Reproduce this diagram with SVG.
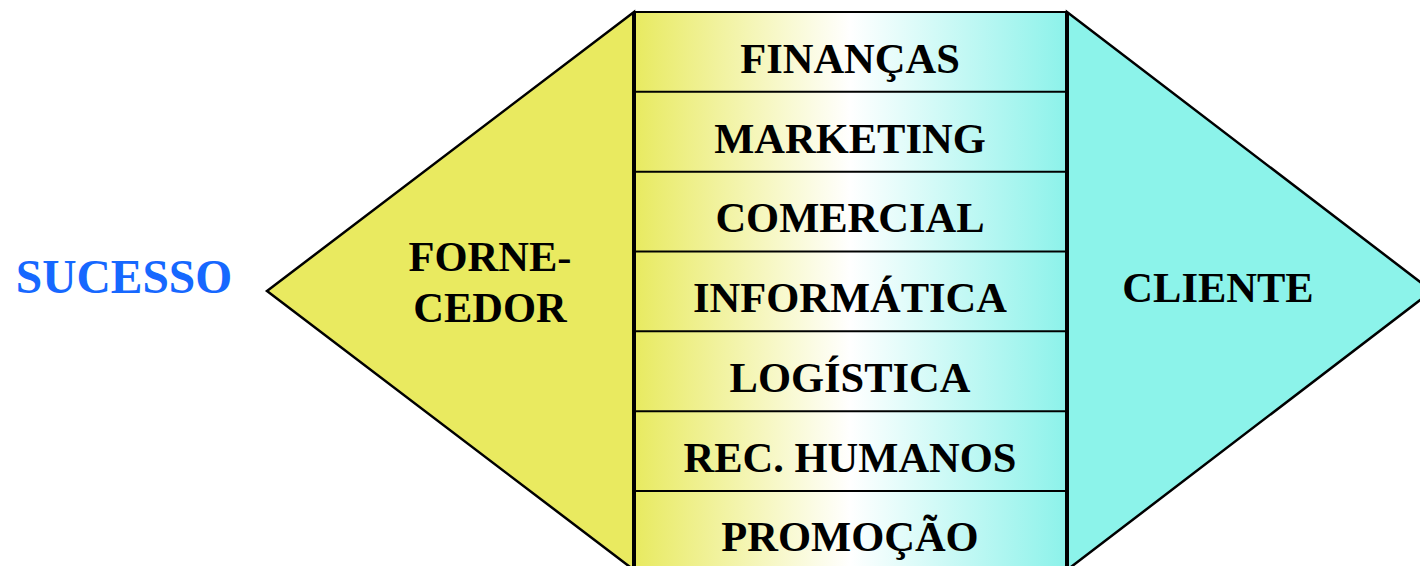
<svg xmlns="http://www.w3.org/2000/svg" width="1420" height="566" viewBox="0 0 1420 566">
<defs>
<linearGradient id="g" x1="634" y1="0" x2="1067" y2="0" gradientUnits="userSpaceOnUse">
<stop offset="0" stop-color="#e8ea60"/>
<stop offset="0.5" stop-color="#ffffff"/>
<stop offset="1" stop-color="#8cf2ea"/>
</linearGradient>
<style>
.t{font-family:"Liberation Serif","Times New Roman",serif;font-weight:bold;font-size:42.5px;fill:#000;text-anchor:middle}
.tri{stroke:#000;stroke-width:2.5;stroke-linejoin:miter}
.sep{stroke:#000;stroke-width:2}
</style>
</defs>
<rect width="1420" height="566" fill="#fff"/>
<g id="sucesso">
<text x="124" y="293" class="t" style="font-size:47.5px;fill:#1668ff">SUCESSO</text>
</g>
<g id="fornecedor">
<polygon class="tri" points="634,12 267,291 634,570" fill="#e9ea60"/>
<text x="490" y="271" class="t">FORNE-</text>
<text x="490" y="322" class="t">CEDOR</text>
</g>
<g id="cliente">
<polygon class="tri" points="1067,12 1432,291 1067,570" fill="#8cf3ea"/>
<text x="1218" y="302" class="t">CLIENTE</text>
</g>
<g id="areas">
<rect x="634" y="12" width="433" height="570" fill="url(#g)" stroke="#000" stroke-width="2"/>
<line x1="634" y1="12" x2="634" y2="570" stroke="#000" stroke-width="4"/>
<line x1="1067" y1="12" x2="1067" y2="570" stroke="#000" stroke-width="4"/>
</g>
<g id="connectors">
<line class="sep" x1="634" y1="91.8" x2="1067" y2="91.8"/>
<line class="sep" x1="634" y1="171.7" x2="1067" y2="171.7"/>
<line class="sep" x1="634" y1="251.5" x2="1067" y2="251.5"/>
<line class="sep" x1="634" y1="331.3" x2="1067" y2="331.3"/>
<line class="sep" x1="634" y1="411.2" x2="1067" y2="411.2"/>
<line class="sep" x1="634" y1="491" x2="1067" y2="491"/>
</g>
<g id="financas"><text x="850" y="72.5" class="t">FINANÇAS</text></g>
<g id="marketing"><text x="850" y="152.5" class="t">MARKETING</text></g>
<g id="comercial"><text x="850" y="232" class="t">COMERCIAL</text></g>
<g id="informatica"><text x="850" y="312" class="t">INFORMÁTICA</text></g>
<g id="logistica"><text x="850" y="392" class="t">LOGÍSTICA</text></g>
<g id="rechumanos"><text x="850" y="472" class="t">REC. HUMANOS</text></g>
<g id="promocao"><text x="850" y="551" class="t">PROMOÇÃO</text></g>
</svg>
